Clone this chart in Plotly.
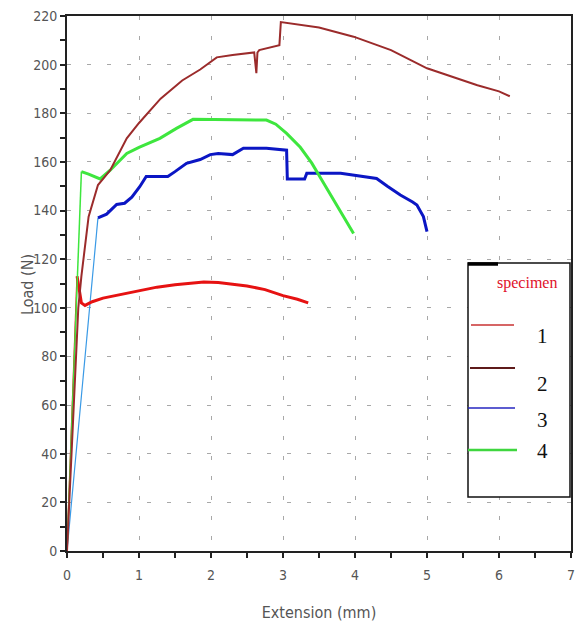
import plotly.graph_objects as go

# ---------------- data ----------------
x_ticks = [0, 1, 2, 3, 4, 5, 6, 7]
y_ticks = [0, 20, 40, 60, 80, 100, 120, 140, 160, 180, 200, 220]

# specimen 1 (red)
s1_elastic_x = [0, 0.14]
s1_elastic_y = [0, 113]
s1_x = [0.14, 0.2, 0.25, 0.35, 0.5, 0.75, 1.0, 1.25, 1.5, 1.75, 1.9, 2.1, 2.3, 2.5, 2.75, 3.0, 3.2, 3.35]
s1_y = [113, 102, 101, 102.5, 104, 105.5, 107, 108.5, 109.5, 110.3, 110.6, 110.4, 109.8, 109, 107.5, 105, 103.5, 102]

# specimen 2 (brown)
s2_x = [0, 0.1, 0.157, 0.2, 0.23, 0.3, 0.43, 0.6, 0.83, 1.0, 1.3, 1.6, 1.85, 2.08, 2.3, 2.5, 2.6, 2.63,
        2.645, 2.67, 2.8, 2.95, 2.97, 3.2, 3.5, 3.98, 4.5, 5.0, 5.41, 5.7, 6.0, 6.15]
s2_y = [0, 62, 100, 113, 120.5, 137.5, 150.5, 156.6, 169.7, 176, 186, 193.5, 198, 203, 204, 204.5, 205, 196.5,
        205, 206, 207, 208, 217.5, 216.5, 215.3, 211.5, 206, 198.5, 194.4, 191.5, 189, 187]

# specimen 3 (blue)
s3_elastic_x = [0, 0.43]
s3_elastic_y = [0, 137]
s3_x = [0.43, 0.55, 0.69, 0.8, 0.9, 1.01, 1.1, 1.4, 1.5, 1.66, 1.85, 1.99, 2.1, 2.3, 2.45, 2.77, 3.05, 3.06,
        3.3, 3.33, 3.8, 4.0, 4.3, 4.45, 4.63, 4.8, 4.86, 4.95, 5.0]
s3_y = [137, 138.5, 142.5, 143, 145.5, 149.8, 154, 154, 156, 159.4, 161, 163, 163.5, 163, 165.6, 165.6, 164.8, 153,
        153, 155.3, 155.3, 154.5, 153.2, 150, 146.4, 143.5, 142.3, 137.5, 131.3]

# specimen 4 (green)
s4_elastic_x = [0, 0.2]
s4_elastic_y = [0, 156]
s4_x = [0.2, 0.3, 0.46, 0.6, 0.83, 1.0, 1.29, 1.52, 1.75, 2.0, 2.5, 2.77, 2.9, 3.05, 3.24, 3.4, 3.51, 3.65,
        3.79, 3.9, 3.98]
s4_y = [156, 155, 153, 156.6, 163.5, 166, 169.7, 173.8, 177.5, 177.5, 177.5, 177.2, 175.5, 171.7, 166, 159.5,
        154, 147, 140.2, 135, 130.6]

legend_title = "specimen"
legend_labels = ["1", "2", "3", "4"]

RED = "#e61212"
BROWN = "#9b2b2b"
BLUE = "#0b16c4"
LBLUE = "#3a9ae6"
GREEN = "#3ee63e"

fig = go.Figure()

def add(x, y, color, width):
    fig.add_trace(go.Scatter(x=x, y=y, mode="lines", line=dict(color=color, width=width),
                             showlegend=False, hoverinfo="skip"))

add(s3_elastic_x, s3_elastic_y, LBLUE, 1.2)
add(s3_x, s3_y, BLUE, 3)
add(s1_elastic_x, s1_elastic_y, RED, 1.5)
add(s1_x, s1_y, RED, 3)
add(s4_elastic_x, s4_elastic_y, GREEN, 1.5)
add(s4_x, s4_y, GREEN, 3)
add(s2_x, s2_y, BROWN, 2)

tick_font = dict(family="DejaVu Sans Condensed, Liberation Sans Narrow, DejaVu Sans", size=14, color="#555555")
title_font = dict(family="DejaVu Sans Condensed, DejaVu Sans", size=16, color="#555555")

fig.update_layout(
    width=577, height=627,
    margin=dict(l=67, r=6, t=16, b=76, autoexpand=False),
    paper_bgcolor="white", plot_bgcolor="white",
    showlegend=False,
    xaxis=dict(
        range=[0, 7], tickvals=x_ticks, ticktext=[str(v) for v in x_ticks],
        automargin=False,
        showline=True, linecolor="#222222", linewidth=2, mirror=True,
        ticks="outside", ticklen=5, tickcolor="#222222", tickwidth=1.5,
        ticklabelstandoff=5,
        minor=dict(dtick=0.5, ticks="outside", ticklen=5, tickcolor="#222222", tickwidth=1.5, showgrid=False),
        showgrid=True, gridcolor="#a8a8a8", gridwidth=1, griddash="4px,16px",
        zeroline=False, tickfont=tick_font,
        title=dict(text="Extension (mm)", font=title_font, standoff=25),
    ),
    yaxis=dict(
        range=[0, 220], tickvals=y_ticks, ticktext=[str(v) for v in y_ticks],
        automargin=False,
        showline=True, linecolor="#222222", linewidth=2, mirror=True,
        ticks="outside", ticklen=5, tickcolor="#222222", tickwidth=1.5,
        minor=dict(dtick=10, ticks="outside", ticklen=5, tickcolor="#222222", tickwidth=1.5, showgrid=False),
        showgrid=True, gridcolor="#a8a8a8", gridwidth=1, griddash="4px,16px",
        zeroline=False, tickfont=tick_font,
    ),
)

# ---------------- custom legend box and y title (paper coords) ----------------
L, T, PW, PH = 67, 16, 504, 535
def px(xp):
    return (xp - L) / PW
def py(yp):
    return (T + PH - yp) / PH

fig.add_annotation(xref="paper", yref="paper", x=px(27), y=py(285), text="Load (N)", showarrow=False,
                   textangle=-90, xanchor="center", yanchor="middle", font=title_font)

fig.add_shape(type="rect", xref="paper", yref="paper", x0=px(468), x1=px(570), y0=py(497), y1=py(263),
              line=dict(color="#111111", width=1.5), fillcolor="white", layer="above")
fig.add_shape(type="line", xref="paper", yref="paper", x0=px(468), x1=px(498), y0=py(264), y1=py(264),
              line=dict(color="#000000", width=3.5), layer="above")
fig.add_annotation(xref="paper", yref="paper", x=px(527), y=py(283), text=legend_title, showarrow=False,
                   xanchor="center", yanchor="middle",
                   font=dict(family="Liberation Serif, DejaVu Serif", size=16, color="#e0102a"))

leg_colors = ["#c83232", "#5e1a1a", "#2626c0", "#3fd63f"]
leg_line_y = [325, 368, 408, 450]
leg_line_x0 = [471, 470, 468, 468]
leg_line_x1 = [514, 515, 515, 517]
leg_line_w = [1.5, 1.8, 1.5, 2.5]
leg_text_y = [336, 384, 420, 451]
for lab, c, ly, x0, x1, w, ty in zip(legend_labels, leg_colors, leg_line_y, leg_line_x0, leg_line_x1, leg_line_w, leg_text_y):
    fig.add_shape(type="line", xref="paper", yref="paper", x0=px(x0), x1=px(x1), y0=py(ly), y1=py(ly),
                  line=dict(color=c, width=w), layer="above")
    fig.add_annotation(xref="paper", yref="paper", x=px(542), y=py(ty), text=lab, showarrow=False,
                       xanchor="center", yanchor="middle",
                       font=dict(family="Liberation Serif, DejaVu Serif", size=21, color="#111111"))

fig.write_html(
    "out.html",
    config={"displayModeBar": False},
    post_script="document.body.style.margin='0';document.body.style.padding='0';"
                "document.documentElement.style.overflow='hidden';",
)
